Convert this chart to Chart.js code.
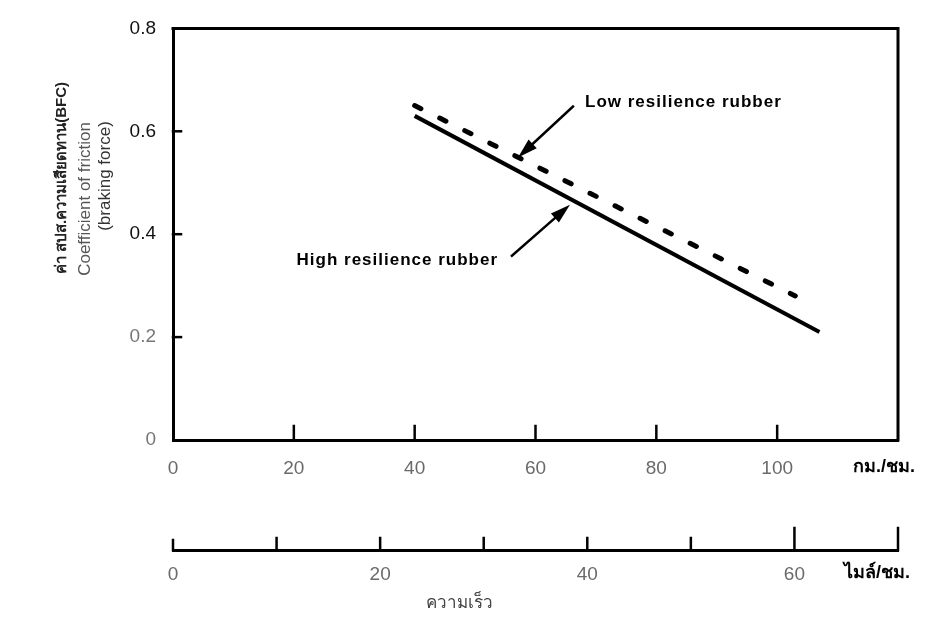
<!DOCTYPE html>
<html>
<head>
<meta charset="utf-8">
<script src="https://cdn.jsdelivr.net/npm/chart.js@4/dist/chart.umd.min.js"></script>
<style>
  body { margin: 0; background: #fff; }
  #wrap { width: 928px; height: 618px; }
</style>
</head>
<body>
<div id="wrap"><canvas id="frictionChart"></canvas></div>
<script>
// speed (km/h) against coefficient of friction (braking force)
var highSpeed = [40, 107];
var highBFC = [0.63, 0.21];
var lowSpeed = [40, 103];
var lowBFC = [0.65, 0.28];

// axis ticks
var bfcTicks = [0, 0.2, 0.4, 0.6, 0.8];
var kmhTicks = [0, 20, 40, 60, 80, 100];
var mphMarks = [0, 10, 20, 30, 40, 50, 60, 70];
var mphLabels = [0, 20, 40, 60];

// texts
var yTitle = ['ค่า สปส.ความเสียดทาน(BFC)', 'Coefficient of friction', '(braking force)'];
var kmhUnit = 'กม./ชม.';
var mphUnit = 'ไมล์/ชม.';
var speedTitle = 'ความเร็ว';
var lowLabel = 'Low resilience rubber';
var highLabel = 'High resilience rubber';

// arrow notes in data units: tail, tip, text anchor
var lowNote = { tail: [66.2, 0.648], tip: [57.1, 0.549], text: [68.2, 0.657] };
var highNote = { tail: [56.1, 0.358], tip: [65.7, 0.457], text: [53.8, 0.350] };

var FONT = "'Liberation Sans', Arial, sans-serif";

function toPoints(xs, ys) {
  var pts = [];
  for (var i = 0; i < xs.length; i++) pts.push({ x: xs[i], y: ys[i] });
  return pts;
}

function arrow(ctx, x1, y1, x2, y2) {
  var ang = Math.atan2(y2 - y1, x2 - x1);
  var hl = 20, hw = 6;
  ctx.beginPath();
  ctx.moveTo(x1, y1);
  ctx.lineTo(x2 - Math.cos(ang) * hl * 0.8, y2 - Math.sin(ang) * hl * 0.8);
  ctx.lineWidth = 2.5;
  ctx.stroke();
  ctx.beginPath();
  ctx.moveTo(x2, y2);
  ctx.lineTo(x2 - Math.cos(ang) * hl - Math.sin(ang) * hw, y2 - Math.sin(ang) * hl + Math.cos(ang) * hw);
  ctx.lineTo(x2 - Math.cos(ang) * hl + Math.sin(ang) * hw, y2 - Math.sin(ang) * hl - Math.cos(ang) * hw);
  ctx.closePath();
  ctx.fill();
}

// box, inner tick marks and the notes
var decor = {
  id: 'decor',
  afterDatasetsDraw: function (chart) {
    var ctx = chart.ctx, a = chart.chartArea;
    var xs = chart.scales.x, x2 = chart.scales.x2, ys = chart.scales.y;
    ctx.save();
    ctx.strokeStyle = '#000';
    ctx.fillStyle = '#000';
    ctx.lineCap = 'square';

    ctx.lineWidth = 3;
    ctx.beginPath();
    ctx.moveTo(a.left, a.top);
    ctx.lineTo(a.right, a.top);
    ctx.lineTo(a.right, a.bottom);
    ctx.stroke();

    ctx.lineWidth = 2.5;
    bfcTicks.forEach(function (v) {
      if (v <= 0 || v >= 0.8) return;
      var py = ys.getPixelForValue(v);
      ctx.beginPath(); ctx.moveTo(a.left, py); ctx.lineTo(a.left + 8, py); ctx.stroke();
    });
    kmhTicks.forEach(function (v) {
      if (v <= 0) return;
      var px = xs.getPixelForValue(v);
      ctx.beginPath(); ctx.moveTo(px, a.bottom); ctx.lineTo(px, a.bottom - 14); ctx.stroke();
    });
    mphMarks.forEach(function (v) {
      var px = x2.getPixelForValue(v);
      var len = v >= 60 ? 22 : (v === 0 ? 10 : 12);
      ctx.beginPath(); ctx.moveTo(px, x2.top); ctx.lineTo(px, x2.top - len); ctx.stroke();
    });

    arrow(ctx, xs.getPixelForValue(lowNote.tail[0]), ys.getPixelForValue(lowNote.tail[1]),
      xs.getPixelForValue(lowNote.tip[0]), ys.getPixelForValue(lowNote.tip[1]));
    arrow(ctx, xs.getPixelForValue(highNote.tail[0]), ys.getPixelForValue(highNote.tail[1]),
      xs.getPixelForValue(highNote.tip[0]), ys.getPixelForValue(highNote.tip[1]));

    ctx.font = 'bold 17px ' + FONT;
    ctx.letterSpacing = '1px';
    ctx.textBaseline = 'middle';
    ctx.textAlign = 'left';
    ctx.fillText(lowLabel, xs.getPixelForValue(lowNote.text[0]), ys.getPixelForValue(lowNote.text[1]));
    ctx.textAlign = 'right';
    ctx.fillText(highLabel, xs.getPixelForValue(highNote.text[0]), ys.getPixelForValue(highNote.text[1]));
    ctx.letterSpacing = '0px';

    // unit labels
    ctx.textAlign = 'center';
    ctx.font = 'bold 18px ' + FONT;
    ctx.fillText(kmhUnit, a.right - 14, xs.top + 27);
    ctx.fillText(mphUnit, a.right - 21, x2.top + 23);
    ctx.font = '17px ' + FONT;
    ctx.fillStyle = '#444';
    ctx.fillText(speedTitle, x2.getPixelForValue(27.7), x2.top + 53);

    // y title, three rotated lines
    var cx = [62, 85, 105], cy = [178, 199, 176];
    var fonts = ['bold 15px ' + FONT, '17px ' + FONT, '17px ' + FONT];
    var cols = ['#222', '#555', '#333'];
    for (var i = 0; i < yTitle.length; i++) {
      ctx.save();
      ctx.translate(cx[i], cy[i]);
      ctx.rotate(-Math.PI / 2);
      ctx.font = fonts[i];
      ctx.fillStyle = cols[i];
      ctx.fillText(yTitle[i], 0, 0);
      ctx.restore();
    }
    ctx.restore();
  }
};

var frictionCanv = document.getElementById('frictionChart');

var frictionPlot = new Chart(frictionCanv, {
  type: 'line',
  data: {
    datasets: [{
      label: highLabel,
      data: toPoints(highSpeed, highBFC),
      borderColor: '#000',
      borderWidth: 4,
      pointRadius: 0,
      tension: 0
    },
    {
      label: lowLabel,
      data: toPoints(lowSpeed, lowBFC),
      borderColor: '#000',
      borderWidth: 5,
      borderDash: [7, 21],
      borderCapStyle: 'round',
      pointRadius: 0,
      tension: 0
    }]
  },
  options: {
    responsive: true,
    maintainAspectRatio: false,
    animation: false,
    layout: { padding: { top: 20, right: 30, left: 0, bottom: 0 } },
    plugins: { legend: { display: false }, tooltip: { enabled: false } },
    scales: {
      x: {
        type: 'linear', position: 'bottom', weight: 0,
        min: 0, max: 120,
        afterBuildTicks: function (s) { s.ticks = kmhTicks.map(function (v) { return { value: v }; }); },
        afterFit: function (s) { s.height = 110; },
        border: { display: true, color: '#000', width: 3 },
        grid: { drawOnChartArea: false, drawTicks: false },
        ticks: {
          padding: 17, autoSkip: false, maxRotation: 0,
          color: '#6a6a6a', font: { family: FONT, size: 19 },
          callback: function (v) { return String(v); }
        }
      },
      x2: {
        type: 'linear', position: 'bottom', weight: 1,
        min: 0, max: 70,
        afterBuildTicks: function (s) { s.ticks = mphMarks.map(function (v) { return { value: v }; }); },
        afterFit: function (s) { s.height = 68; },
        border: { display: true, color: '#000', width: 3 },
        grid: { drawOnChartArea: false, drawTicks: false },
        ticks: {
          padding: 13, autoSkip: false, maxRotation: 0,
          color: '#6a6a6a', font: { family: FONT, size: 19 },
          callback: function (v) { return mphLabels.indexOf(v) >= 0 ? String(v) : ''; }
        }
      },
      y: {
        min: 0, max: 0.8,
        afterBuildTicks: function (s) { s.ticks = bfcTicks.map(function (v) { return { value: v }; }); },
        afterFit: function (s) { s.width = 173; },
        border: { display: true, color: '#000', width: 3 },
        grid: { drawOnChartArea: false, drawTicks: false },
        ticks: {
          padding: 17,
          font: { family: FONT, size: 19 },
          color: function (c) { return c.tick && c.tick.value >= 0.4 ? '#111' : '#777'; },
          callback: function (v) { return v === 0 ? '0' : v.toFixed(1); }
        }
      }
    }
  },
  plugins: [decor]
});
</script>
</body>
</html>
